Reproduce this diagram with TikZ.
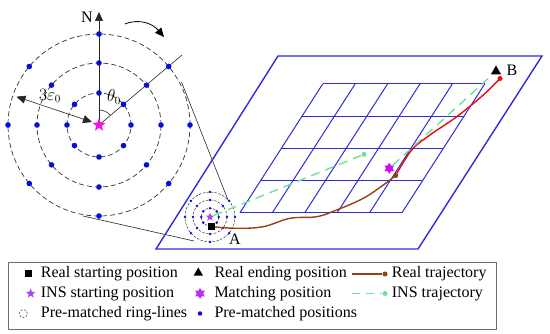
\documentclass[tikz,border=0pt]{standalone}
\usepackage{fontspec}
\setmainfont{Liberation Serif}
\usetikzlibrary{shapes.geometric,arrows.meta,calc}
\definecolor{dotblue}{RGB}{10,10,225}
\definecolor{planeblue}{RGB}{45,45,215}
\definecolor{starpink}{RGB}{240,20,220}
\definecolor{insviolet}{RGB}{165,70,240}
\definecolor{matchmag}{RGB}{205,10,240}
\definecolor{trbrown}{RGB}{150,65,20}
\definecolor{trred}{RGB}{235,10,10}
\definecolor{insgreen}{RGB}{110,225,150}
\definecolor{legframe}{RGB}{110,110,110}
\begin{document}
\begin{tikzpicture}[x=1pt,y=-1pt,
  every node/.style={font=\fontsize{16}{19}\selectfont},
  ring/.style={draw=black!80,dash pattern=on 5pt off 3pt,line width=0.7pt},
  sring/.style={draw=black!80,dash pattern=on 2.5pt off 1.5pt,line width=0.5pt},
  bdot/.style={circle,fill=dotblue,inner sep=0pt,minimum size=5.6pt},
  sdot/.style={circle,fill=dotblue,inner sep=0pt,minimum size=2.8pt},
  thinline/.style={draw=black!85,line width=0.6pt},
  tip/.style={-{Triangle[length=9pt,width=8pt]}},
  plane/.style={draw=planeblue,line width=1.4pt},
  gridl/.style={draw=planeblue,line width=1pt},
  fivestar/.style={star,star points=5,star point ratio=2.4,inner sep=0pt},
  sixstar/.style={star,star points=6,star point ratio=1.7,inner sep=0pt},
  tri/.style={regular polygon,regular polygon sides=3,fill=black,inner sep=0pt},
  insdash/.style={draw=insgreen,line width=1.4pt,dash pattern=on 9pt off 6pt},
  gdot/.style={circle,fill=insgreen,inner sep=0pt,minimum size=5pt}
]
\useasboundingbox (0,0) rectangle (550,334);

% ---------- big ring diagram ----------
\coordinate (C) at (99,125);
\foreach \r in {32,62,91} \draw[ring] (C) circle (\r pt);
\coordinate (Ntop) at (99,12);
\coordinate (Tend) at (182,55);
\draw[thinline,tip] (C) -- (Ntop);
\draw[thinline] (C) -- (Tend);
\node (Nlab) at (87,17) {N};
\foreach \r in {32,62,91}
  \foreach \a in {-90,-40,0,40,90,140,180,220}
    \node[bdot] at ($(C)+(\a:\r)$) {};
\node[fivestar,fill=starpink,minimum size=14pt] (Cstar) at (C) {};
\draw[thinline] ($(C)+(-90:15)$) arc[start angle=-90,end angle=-40,radius=15];
\node (theta) at (114,97) {$\theta_0$};
\coordinate (Eleft) at (16.5,96.7);
\coordinate (Eright) at (92,122);
\draw[thinline,{Triangle[length=9pt,width=8pt]}-{Triangle[length=9pt,width=8pt]}] (Eleft) -- (Eright);
\node (eps) at (50,96) {$3\varepsilon_0$};
\coordinate (R1) at (125,24);
\coordinate (R2) at (164,37);
\draw[line width=0.8pt,tip] (R1) .. controls (140,18) and (153,24) .. (R2);

% ---------- magnifier lines ----------
\coordinate (M1a) at (181.5,82);
\coordinate (M1b) at (228,200);
\coordinate (M2a) at (83,216);
\coordinate (M2b) at (194,241);
\draw[thinline] (M1a) -- (M1b);
\draw[thinline] (M2a) -- (M2b);

% ---------- plane ----------
\draw[plane] (278,56) -- (542,56) -- (418,249) -- (156,249) -- cycle;
\coordinate (G0) at (240,212.7);
\foreach \i in {0,...,5}
  \draw[gridl] ($(G0)+(\i*32.4,0)$) -- ++(82.7,-128.7);
\foreach \j in {0,...,4}
  \draw[gridl] ($(G0)+(\j*20.675,-\j*32.175)$) -- ++(162,0);

% ---------- small ring diagram ----------
\coordinate (S) at (210,217);
\foreach \r in {8.8,17,25} \draw[sring] (S) circle (\r pt);
\foreach \r in {8.8,17,25}
  \foreach \a in {-90,-40,0,40,90,140,180,220}
    \node[sdot] at ($(S)+(\a:\r)$) {};

% ---------- trajectories ----------
\coordinate (Astart) at (211.7,226.7);
\coordinate (Mpt) at (395.7,175.5);
\coordinate (Bend) at (500,78.5);
\draw[trbrown,line width=1.4pt] plot[smooth,tension=0.6] coordinates {(211.7,226.7) (236.7,228.3) (263.3,226.7) (290,218.3) (316.7,216.7) (336.7,210) (363.3,198.3) (383.3,185) (395.7,175.5)};
\draw[trred,line width=1.4pt] plot[smooth,tension=0.6] coordinates {(395.7,175.5) (411.7,150) (430,135) (456.7,116.7) (483.3,95) (500,78.5)};
\node[fivestar,fill=insviolet,minimum size=9pt] (Sstar) at (S) {};
\coordinate (G1) at (364,154.3);
\draw[insdash] (Sstar) -- (G1);
\node[gdot] (G1dot) at (G1) {};
\node[sixstar,fill=matchmag,minimum size=11pt] (Match) at (389.3,168.3) {};
\node[tri,minimum size=12pt] (Btri) at (496,71.5) {};
\draw[insdash] (Match) -- (Btri);
\node[circle,fill=trbrown,inner sep=0pt,minimum size=5pt] (Mdot) at (Mpt) {};
\node[circle,fill=trred,inner sep=0pt,minimum size=5pt] (Bdot) at (Bend) {};
\node[rectangle,fill=black,inner sep=0pt,minimum size=7pt] (Asq) at (Astart) {};
\node (Alab) at (235,239) {A};
\node (Blab) at (512,70) {B};

% ---------- legend ----------
\node[draw=legframe,line width=0.8pt,inner sep=0pt,minimum width=488pt,minimum height=67pt,anchor=north west] (leg) at (8,262) {};
\node[rectangle,fill=black,inner sep=0pt,minimum size=7pt] (l1s) at (28.3,273.5) {};
\node[anchor=west,inner sep=0pt] (l1t) at (40.7,273.5) {Real starting position};
\node[tri,minimum size=11pt] (l2s) at (198.3,273) {};
\node[anchor=west,inner sep=0pt] (l2t) at (214.3,273.5) {Real ending position};
\coordinate (l3a) at (351.7,274);
\node[circle,fill=trbrown,inner sep=0pt,minimum size=5pt] (l3b) at (385,274) {};
\draw[trbrown,line width=1.4pt] (l3a) -- (l3b);
\node[anchor=west,inner sep=0pt] (l3t) at (391.7,273.5) {Real trajectory};

\node[fivestar,fill=insviolet,minimum size=10pt] (l4s) at (30.7,293.5) {};
\node[anchor=west,inner sep=0pt] (l4t) at (40.7,293.5) {INS starting position};
\node[sixstar,fill=insviolet!70!matchmag,minimum size=11pt] (l5s) at (200,293.5) {};
\node[anchor=west,inner sep=0pt] (l5t) at (214.3,293.5) {Matching position};
\coordinate (l6a) at (351.7,293.5);
\node[gdot] (l6b) at (385,293.5) {};
\draw[insdash,dash pattern=on 8pt off 6pt] (l6a) -- (l6b);
\node[anchor=west,inner sep=0pt] (l6t) at (391.7,293.5) {INS trajectory};

\node[circle,draw=black!80,dash pattern=on 2pt off 1.5pt,line width=0.5pt,inner sep=0pt,minimum size=8pt] (l7s) at (23.3,313.5) {};
\node[anchor=west,inner sep=0pt] (l7t) at (40.7,313.5) {Pre-matched ring-lines};
\node[bdot,minimum size=4.5pt] (l8s) at (200,313.5) {};
\node[anchor=west,inner sep=0pt] (l8t) at (214.3,313.5) {Pre-matched positions};
\end{tikzpicture}
\end{document}
